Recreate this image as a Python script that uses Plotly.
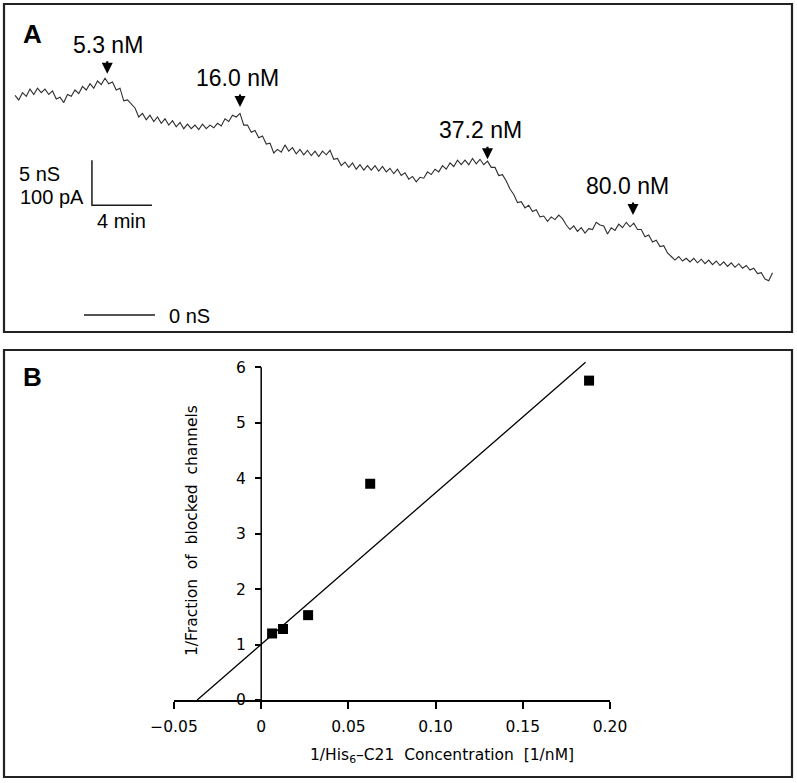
import plotly.graph_objects as go

# ---------------- Panel A data (conductance trace, nS vs time, min) ----------------
SAMPLE_INTERVAL_MIN = 0.25
conductance_nS = [
    24.4, 23.9, 24.7, 24.3, 25.1, 24.5, 25.2, 24.7, 25.1, 24.5, 24.9, 24.0, 24.2, 23.6, 24.5, 24.3,
    25.0, 24.6, 25.4, 25.0, 25.7, 25.2, 26.0, 25.6, 26.3, 25.7, 25.9, 25.0, 25.2, 23.8, 23.9, 23.4,
    23.0, 22.0, 22.4, 21.7, 22.2, 21.5, 22.0, 21.3, 21.8, 21.1, 21.6, 20.9, 21.4, 20.7, 21.2, 20.7,
    21.1, 20.6, 21.2, 20.7, 21.1, 20.8, 21.3, 21.0, 21.8, 21.5, 22.2, 22.0, 22.4, 21.1, 21.1, 20.3,
    20.5, 19.7, 19.9, 19.0, 19.1, 18.0, 18.4, 18.1, 18.9, 18.2, 18.6, 17.9, 18.4, 17.8, 18.3, 17.7,
    18.2, 17.6, 18.2, 17.8, 18.3, 17.3, 17.4, 16.6, 17.0, 16.4, 16.9, 16.2, 16.7, 16.1, 16.6, 16.1,
    16.6, 16.0, 16.5, 15.9, 16.3, 15.7, 16.2, 15.5, 15.8, 15.1, 15.4, 14.8, 15.3, 15.2, 15.9, 15.6,
    16.2, 15.9, 16.6, 16.2, 16.9, 16.5, 17.2, 16.7, 17.2, 16.7, 17.4, 16.8, 17.3, 16.7, 17.1, 16.4,
    16.4, 15.5, 15.6, 14.9, 14.0, 13.4, 12.5, 12.6, 11.9, 12.2, 11.5, 11.7, 10.9, 11.0, 10.4, 10.9,
    10.6, 11.1, 10.7, 10.0, 9.5, 9.9, 9.3, 9.7, 9.1, 9.6, 9.5, 10.3, 10.0, 9.9, 9.0, 9.7,
    9.4, 10.1, 9.7, 10.3, 9.8, 10.2, 9.5, 9.5, 8.7, 8.9, 8.1, 8.3, 7.6, 7.7, 6.9, 6.5,
    6.1, 6.5, 6.0, 6.3, 5.9, 6.3, 5.8, 6.2, 5.7, 6.1, 5.6, 6.0, 5.5, 5.9, 5.4, 5.8,
    5.3, 5.7, 5.2, 5.5, 5.0, 5.2, 4.6, 4.7, 4.0, 3.8, 4.7,
]
time_min = [i * SAMPLE_INTERVAL_MIN for i in range(len(conductance_nS))]

# toxin additions (labels, time of addition in min, trace level at arrow tip in nS)
addition_labels = ["5.3 nM", "16.0 nM", "37.2 nM", "80.0 nM"]
addition_time_min = [6.15, 15.0, 31.5, 41.2]
addition_level_nS = [26.8, 23.1, 17.3, 11.1]

# scale bar and zero line
scale_bar_origin = [5.13, 12.2]   # (min, nS)
scale_bar_time_min = 4
scale_bar_cond_nS = 5
zero_line_time = [4.6, 9.33]

# ---------------- Panel B data (double reciprocal plot) ----------------
inv_conc = [0.00625, 0.0125, 0.0269, 0.0625, 0.188]
inv_fraction_blocked = [1.20, 1.28, 1.53, 3.90, 5.76]
fit_x = [-0.0367, 0.186]
fit_y = [0.0, 6.09]
x_ticks = [-0.05, 0, 0.05, 0.10, 0.15, 0.20]
x_tick_labels = ["\u22120.05", "0", "0.05", "0.10", "0.15", "0.20"]
y_ticks = [0, 1, 2, 3, 4, 5, 6]
y_tick_labels = ["0", "1", "2", "3", "4", "5", "6"]

# ---------------- layout helpers ----------------
W, H = 797, 783
def px_x(p):
    return p / W
def px_y(p):
    return 1 - p / H

A_FONT = "Liberation Sans, Arial, sans-serif"
B_FONT = "DejaVu Sans, Verdana, sans-serif"
INK = "#1a1a1a"

fig = go.Figure()

# Panel A trace
fig.add_trace(go.Scatter(x=time_min, y=conductance_nS, mode="lines",
                         line=dict(color="#2e2e2e", width=1.1), xaxis="x", yaxis="y",
                         hoverinfo="skip", showlegend=False))
# scale bar
t0, c0 = scale_bar_origin
fig.add_trace(go.Scatter(x=[t0, t0, t0 + scale_bar_time_min],
                         y=[c0 + scale_bar_cond_nS, c0, c0], mode="lines",
                         line=dict(color=INK, width=1.5), xaxis="x", yaxis="y",
                         hoverinfo="skip", showlegend=False))
# zero line
fig.add_trace(go.Scatter(x=zero_line_time, y=[0, 0], mode="lines",
                         line=dict(color=INK, width=1.3), xaxis="x", yaxis="y",
                         hoverinfo="skip", showlegend=False))

# Panel B
fig.add_trace(go.Scatter(x=fit_x, y=fit_y, mode="lines", line=dict(color="black", width=1.3),
                         xaxis="x2", yaxis="y2", hoverinfo="skip", showlegend=False))
fig.add_trace(go.Scatter(x=inv_conc, y=inv_fraction_blocked, mode="markers",
                         marker=dict(symbol="square", size=10, color="black"),
                         xaxis="x2", yaxis="y2", cliponaxis=False, showlegend=False))

annotations = []
# arrows + labels
label_xshift = [1, -3, -7, -6]
for lab, t, lvl, xs in zip(addition_labels, addition_time_min, addition_level_nS, label_xshift):
    annotations.append(dict(x=t, y=lvl, xref="x", yref="y", text="", showarrow=True,
                            ax=0, ay=-14, arrowhead=2, arrowsize=1, arrowwidth=2.2,
                            arrowcolor="black", standoff=0))
    annotations.append(dict(x=t, y=lvl, xref="x", yref="y", text=lab, showarrow=False,
                            xanchor="center", yanchor="middle", yshift=29, xshift=xs,
                            font=dict(family=A_FONT, size=23, color="black")))

def txt(x, y, s, size, xanchor="left", bold=False, family=A_FONT, xref="x", yref="y", angle=0):
    return dict(x=x, y=y, xref=xref, yref=yref, text=("<b>%s</b>" % s) if bold else s,
                showarrow=False, xanchor=xanchor, yanchor="middle", textangle=angle,
                font=dict(family=family, size=size, color="black"))

annotations += [
    txt(0.13, 15.7, "5 nS", 20),
    txt(0.2, 13.1, "100 pA", 20),
    txt(7.07, 10.4, "4 min", 20, xanchor="center"),
    txt(10.1, -0.1, "0 nS", 20),
    txt(px_x(21), px_y(34), "A", 26, bold=True, xref="paper", yref="paper"),
    txt(px_x(21), px_y(377), "B", 26, bold=True, xref="paper", yref="paper"),
    txt(px_x(442), px_y(756), "1/His<sub>6</sub>\u2013C21  Concentration  [1/nM]", 15.5,
        xanchor="center", family=B_FONT, xref="paper", yref="paper"),
    txt(px_x(192), px_y(531), "1/Fraction  of  blocked  channels", 15.5,
        xanchor="center", family=B_FONT, xref="paper", yref="paper", angle=-90),
]

shapes = [
    dict(type="rect", xref="paper", yref="paper", x0=px_x(4), x1=px_x(792), y0=px_y(332), y1=px_y(4),
         line=dict(color="#222222", width=2.2)),
    dict(type="rect", xref="paper", yref="paper", x0=px_x(4), x1=px_x(792), y0=px_y(777), y1=px_y(350),
         line=dict(color="#222222", width=2.2)),
    # y axis line of panel B at x=0 spanning the tick range
    dict(type="line", xref="x2", yref="y2", x0=0, x1=0, y0=min(y_ticks), y1=max(y_ticks),
         line=dict(color="black", width=1.5)),
]

# Panel A axes mapping: 15 px per minute, 9 px per nS, time 0 at px 15, 0 nS at px 315
A_left, A_right, A_top, A_bot = 4, 792, 4, 332
fig.update_layout(
    width=W, height=H, autosize=False,
    margin=dict(l=0, r=0, t=0, b=0, pad=0, autoexpand=False),
    paper_bgcolor="white", plot_bgcolor="rgba(0,0,0,0)",
    xaxis=dict(domain=[px_x(A_left), px_x(A_right)],
               range=[(A_left - 15) / 15, (A_right - 15) / 15], visible=False, anchor="y",
               automargin=False),
    yaxis=dict(domain=[px_y(A_bot), px_y(A_top)],
               range=[(315 - A_bot) / 9, (315 - A_top) / 9], visible=False, anchor="x",
               automargin=False),
    xaxis2=dict(domain=[px_x(174), px_x(610)], range=[-0.05, 0.20], anchor="y2",
                tickvals=x_ticks, ticktext=x_tick_labels, ticks="outside", ticklen=7,
                tickwidth=1.5, tickcolor="black", showline=True, linewidth=1.5, linecolor="black",
                showgrid=False, zeroline=False, automargin=False, ticklabelstandoff=5,
                tickfont=dict(family=B_FONT, size=15.5, color="black")),
    yaxis2=dict(domain=[px_y(700), px_y(700 - 6.2 * 55.45)], range=[0, 6.2],
                anchor="free", position=px_x(261), automargin=False, ticklabelstandoff=6,
                tickvals=y_ticks, ticktext=y_tick_labels, ticks="outside", ticklen=6,
                tickwidth=1.5, tickcolor="black", showline=False, showgrid=False, zeroline=False,
                tickfont=dict(family=B_FONT, size=15.5, color="black")),
    annotations=annotations, shapes=shapes, showlegend=False,
)

# remove the default page margin so the figure sits at the window origin
fig.write_html("out.html", config={"displayModeBar": False},
               post_script="document.body.style.margin='0px'; document.body.style.overflow='hidden';")
